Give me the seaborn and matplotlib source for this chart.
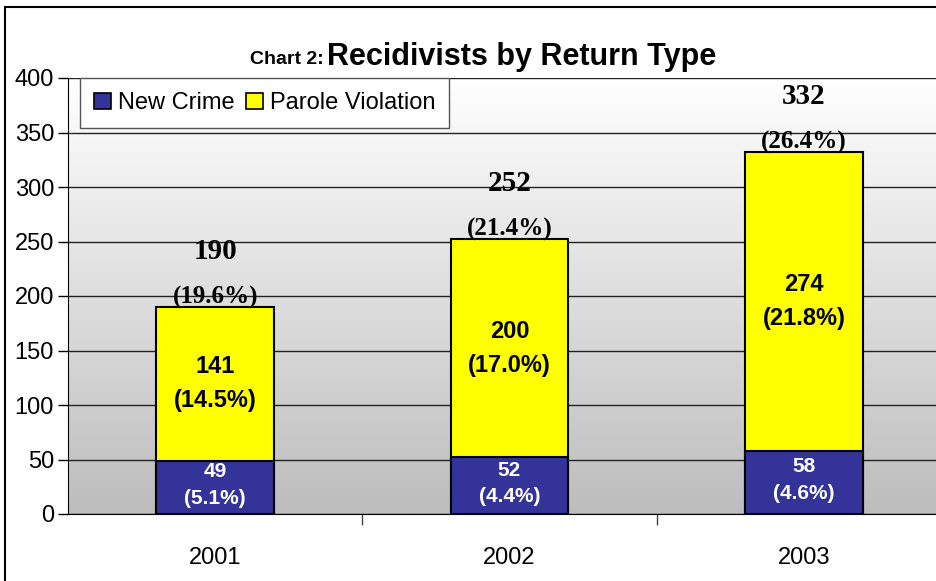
import numpy as np
import pandas as pd
import seaborn as sns
import matplotlib.pyplot as plt
from matplotlib.colors import LinearSegmentedColormap
from matplotlib.patches import Patch, Rectangle

# data
years = ['2001', '2002', '2003']
new_crime = [49, 52, 58]
new_crime_pct = ['(5.1%)', '(4.4%)', '(4.6%)']
parole = [141, 200, 274]
parole_pct = ['(14.5%)', '(17.0%)', '(21.8%)']
totals = [190, 252, 332]
total_pct = ['(19.6%)', '(21.4%)', '(26.4%)']

df = pd.DataFrame({'year': years, 'new_crime': new_crime, 'total': totals})

sns.set_style('white')
narrow = ['Liberation Sans Narrow', 'Liberation Sans', 'DejaVu Sans']
serif = ['Liberation Serif', 'DejaVu Serif']
plt.rcParams['font.family'] = narrow
plt.rcParams['text.color'] = 'black'
plt.rcParams['xtick.color'] = 'black'
plt.rcParams['ytick.color'] = 'black'
plt.rcParams['xtick.labelcolor'] = 'black'
plt.rcParams['ytick.labelcolor'] = 'black'

blue = '#333399'
yellow = '#FFFF00'

fig = plt.figure(figsize=(9.36, 5.81), dpi=100)
ax = fig.add_axes([68 / 936, 67 / 581, 883 / 936, 436 / 581])

# gradient plot background
grad = LinearSegmentedColormap.from_list('bg', ['#ffffff', '#bdbdbd'])
ax.imshow(np.linspace(0, 1, 256).reshape(-1, 1), cmap=grad, aspect='auto',
          extent=(-0.5, 2.5, 0, 400), origin='upper', zorder=0)

# stacked bars: totals in yellow, new crime drawn over the bottom
sns.barplot(data=df, x='year', y='total', color=yellow, width=0.4,
            edgecolor='black', linewidth=1.5, saturation=1, ax=ax, zorder=3)
sns.barplot(data=df, x='year', y='new_crime', color=blue, width=0.4,
            edgecolor='black', linewidth=1.5, saturation=1, ax=ax, zorder=4)

ax.set_xlim(-0.5, 2.5)
ax.set_ylim(0, 400)
ax.set_yticks(range(0, 401, 50))
ax.yaxis.grid(True, color='#222222', linewidth=1)
ax.set_axisbelow(False)
for ln in ax.get_ygridlines():
    ln.set_zorder(1)
ax.set_xlabel('')
ax.set_ylabel('')

for s in ['top', 'right']:
    ax.spines[s].set_visible(False)
ax.spines['left'].set_color('black')
ax.spines['bottom'].set_color('black')
ax.spines['left'].set_zorder(5)
ax.spines['bottom'].set_zorder(5)

ax.tick_params(axis='y', direction='out', length=7, width=1,
               labelsize=17, pad=3, left=True)
ax.tick_params(axis='x', which='major', length=0, labelsize=17, pad=24)
ax.set_xticks([0.5, 1.5], minor=True)
ax.tick_params(axis='x', which='minor', length=8, width=1, color='#444444',
               direction='out', bottom=True)

for i in range(len(years)):
    mid_nc = new_crime[i] / 2
    ax.text(i, mid_nc + 2, f'{new_crime[i]}\n{new_crime_pct[i]}', ha='center',
            va='center', color='white', fontsize=15, fontweight='bold',
            linespacing=1.5, zorder=6)
    mid_pv = new_crime[i] + parole[i] / 2
    ax.text(i, mid_pv, f'{parole[i]}\n{parole_pct[i]}', ha='center',
            va='center', color='black', fontsize=17, fontweight='bold',
            linespacing=1.6, zorder=6)
    ax.text(i, totals[i] + 51, f'{totals[i]}', ha='center', va='center',
            family=serif, fontsize=21, fontweight='bold', zorder=6)
    ax.text(i, totals[i] + 9, total_pct[i], ha='center', va='center',
            family=serif, fontsize=18, fontweight='bold', zorder=6)

# title in two sizes
fig.text(327 / 936, 1 - 65 / 581, 'Recidivists by Return Type', ha='left',
         va='baseline', fontsize=22, fontweight='bold')
fig.text(324 / 936, 1 - 64 / 581, 'Chart 2:', ha='right', va='baseline',
         fontsize=14, fontweight='bold')

handles = [Patch(facecolor=blue, edgecolor='black', linewidth=1.2),
           Patch(facecolor=yellow, edgecolor='black', linewidth=1.2)]
leg = fig.legend(handles, ['New Crime', 'Parole Violation'], loc='upper left',
                 bbox_to_anchor=(80 / 936, 1 - 78 / 581), ncol=2, fontsize=17,
                 frameon=True, fancybox=False, handlelength=0.7,
                 handleheight=0.7, handletextpad=0.3, columnspacing=0.5,
                 borderpad=0.6, borderaxespad=0)
leg.get_frame().set_edgecolor('#555555')
leg.get_frame().set_linewidth(1)
leg.get_frame().set_alpha(1)

# outer chart border (left and top visible)
fig.patches.append(Rectangle((5 / 936, -0.1), 1.2, 1 - 7 / 581 + 0.1,
                             transform=fig.transFigure, fill=False,
                             edgecolor='black', linewidth=1.5))

fig.savefig('out.png', dpi=100)
